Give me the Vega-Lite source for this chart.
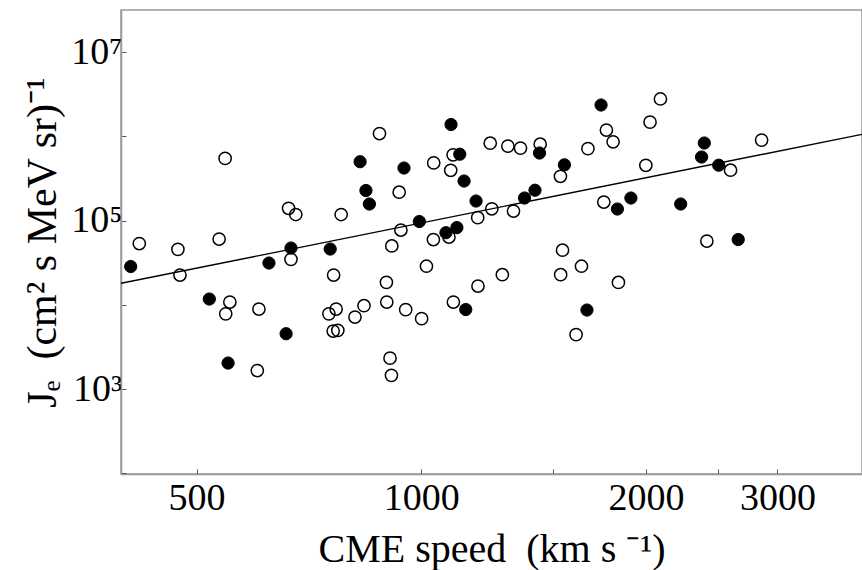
{
  "$schema": "https://vega.github.io/schema/vega-lite/v6.json",
  "width": 741,
  "height": 464,
  "autosize": {"type": "none"},
  "padding": {"left": 121, "top": 10, "right": 0, "bottom": 96},
  "background": "white",
  "config": {
    "view": {"stroke": "#999999", "strokeWidth": 1.5},
    "font": "Liberation Serif",
    "axis": {
      "grid": false,
      "domainColor": "#999999",
      "domainWidth": 1.5,
      "tickColor": "#555555",
      "tickSize": -5,
      "labelFont": "Liberation Serif",
      "labelColor": "black",
      "titleFont": "Liberation Serif",
      "titleColor": "black",
      "titleFontWeight": "normal"
    }
  },
  "datasets": {
    "pts": [
      {"v": 408, "j": 28510, "t": "filled"},
      {"v": 520, "j": 11720, "t": "filled"},
      {"v": 551, "j": 2036, "t": "filled"},
      {"v": 625, "j": 31370, "t": "filled"},
      {"v": 659, "j": 4536, "t": "filled"},
      {"v": 669, "j": 47270, "t": "filled"},
      {"v": 755, "j": 45980, "t": "filled"},
      {"v": 828, "j": 500600, "t": "filled"},
      {"v": 843, "j": 227800, "t": "filled"},
      {"v": 852, "j": 157500, "t": "filled"},
      {"v": 948, "j": 421400, "t": "filled"},
      {"v": 994, "j": 97560, "t": "filled"},
      {"v": 1079, "j": 71810, "t": "filled"},
      {"v": 1096, "j": 1384000, "t": "filled"},
      {"v": 1116, "j": 82580, "t": "filled"},
      {"v": 1126, "j": 614500, "t": "filled"},
      {"v": 1141, "j": 295300, "t": "filled"},
      {"v": 1147, "j": 8794, "t": "filled"},
      {"v": 1184, "j": 170900, "t": "filled"},
      {"v": 1375, "j": 185500, "t": "filled"},
      {"v": 1420, "j": 229600, "t": "filled"},
      {"v": 1440, "j": 635100, "t": "filled"},
      {"v": 1555, "j": 459800, "t": "filled"},
      {"v": 1667, "j": 8673, "t": "filled"},
      {"v": 1741, "j": 2360000, "t": "filled"},
      {"v": 1831, "j": 137300, "t": "filled"},
      {"v": 1909, "j": 185500, "t": "filled"},
      {"v": 2226, "j": 157500, "t": "filled"},
      {"v": 2374, "j": 569200, "t": "filled"},
      {"v": 2394, "j": 834600, "t": "filled"},
      {"v": 2503, "j": 455000, "t": "filled"},
      {"v": 2658, "j": 59640, "t": "filled"},
      {"v": 419, "j": 53460, "t": "open"},
      {"v": 472, "j": 45600, "t": "open"},
      {"v": 475, "j": 22590, "t": "open"},
      {"v": 536, "j": 60470, "t": "open"},
      {"v": 546, "j": 547900, "t": "open"},
      {"v": 554, "j": 10800, "t": "open"},
      {"v": 547, "j": 7818, "t": "open"},
      {"v": 603, "j": 1659, "t": "open"},
      {"v": 606, "j": 8915, "t": "open"},
      {"v": 664, "j": 140000, "t": "open"},
      {"v": 679, "j": 118200, "t": "open"},
      {"v": 669, "j": 34700, "t": "open"},
      {"v": 781, "j": 118200, "t": "open"},
      {"v": 763, "j": 22590, "t": "open"},
      {"v": 752, "j": 7818, "t": "open"},
      {"v": 769, "j": 8915, "t": "open"},
      {"v": 762, "j": 4884, "t": "open"},
      {"v": 773, "j": 4978, "t": "open"},
      {"v": 815, "j": 7163, "t": "open"},
      {"v": 838, "j": 9757, "t": "open"},
      {"v": 879, "j": 1082000, "t": "open"},
      {"v": 934, "j": 217500, "t": "open"},
      {"v": 898, "j": 18500, "t": "open"},
      {"v": 899, "j": 10800, "t": "open"},
      {"v": 913, "j": 50060, "t": "open"},
      {"v": 939, "j": 77330, "t": "open"},
      {"v": 953, "j": 8770, "t": "open"},
      {"v": 908, "j": 2328, "t": "open"},
      {"v": 912, "j": 1454, "t": "open"},
      {"v": 1001, "j": 6856, "t": "open"},
      {"v": 1016, "j": 28730, "t": "open"},
      {"v": 1039, "j": 484500, "t": "open"},
      {"v": 1038, "j": 59640, "t": "open"},
      {"v": 1089, "j": 63870, "t": "open"},
      {"v": 1095, "j": 395800, "t": "open"},
      {"v": 1103, "j": 604500, "t": "open"},
      {"v": 1104, "j": 10800, "t": "open"},
      {"v": 1191, "j": 16720, "t": "open"},
      {"v": 1190, "j": 108500, "t": "open"},
      {"v": 1237, "j": 830000, "t": "open"},
      {"v": 1243, "j": 138100, "t": "open"},
      {"v": 1284, "j": 22780, "t": "open"},
      {"v": 1306, "j": 767000, "t": "open"},
      {"v": 1329, "j": 130000, "t": "open"},
      {"v": 1358, "j": 726100, "t": "open"},
      {"v": 1443, "j": 807800, "t": "open"},
      {"v": 1536, "j": 335900, "t": "open"},
      {"v": 1546, "j": 44510, "t": "open"},
      {"v": 1537, "j": 22780, "t": "open"},
      {"v": 1639, "j": 28730, "t": "open"},
      {"v": 1612, "j": 4428, "t": "open"},
      {"v": 1672, "j": 716300, "t": "open"},
      {"v": 1770, "j": 1191000, "t": "open"},
      {"v": 1807, "j": 862600, "t": "open"},
      {"v": 1756, "j": 166300, "t": "open"},
      {"v": 1837, "j": 18450, "t": "open"},
      {"v": 1999, "j": 453700, "t": "open"},
      {"v": 2025, "j": 1479000, "t": "open"},
      {"v": 2091, "j": 2782000, "t": "open"},
      {"v": 2413, "j": 57240, "t": "open"},
      {"v": 2596, "j": 396900, "t": "open"},
      {"v": 2857, "j": 903700, "t": "open"}
    ],
    "fit": [
      {"v": 396, "j": 18000},
      {"v": 3894, "j": 1059000}
    ]
  },
  "layer": [
    {
      "data": {"name": "pts"},
      "transform": [{"filter": "datum.t == 'open'"}],
      "mark": {"type": "point", "shape": "circle", "filled": false, "stroke": "black", "strokeWidth": 1.5, "size": 150, "opacity": 1},
      "encoding": {
        "x": {
          "field": "v", "type": "quantitative",
          "scale": {"type": "log", "domain": [396, 3894], "nice": false, "zero": false},
          "axis": {
            "title": "CME speed\u00a0\u00a0(km s ⁻¹)",
            "titleFontSize": 40,
            "titlePadding": 12,
            "labelFontSize": 38,
            "labelPadding": 10,
            "values": [500, 1000, 1500, 2000, 2500, 3000],
            "format": "d",
            "labelExpr": "datum.value == 1500 || datum.value == 2500 ? '' : datum.label",
            "labelFlush": false,
            "labelOverlap": false
          }
        },
        "y": {
          "field": "j", "type": "quantitative",
          "scale": {"type": "log", "domain": [98, 31700000], "nice": false, "zero": false},
          "axis": {
            "title": "Jₑ\u00a0\u00a0(cm² s MeV sr)⁻¹",
            "titleFontSize": 42,
            "titlePadding": 6,
            "labelFontSize": 38,
            "labelPadding": 4,
            "values": [100, 1000, 10000, 100000, 1000000, 10000000],
            "labelExpr": "datum.value == 1000 ? '10³' : datum.value == 100000 ? '10⁵' : datum.value == 10000000 ? '10⁷' : ''",
            "labelOverlap": false,
            "labelFlush": false
          }
        }
      }
    },
    {
      "data": {"name": "pts"},
      "transform": [{"filter": "datum.t == 'filled'"}],
      "mark": {"type": "point", "shape": "circle", "filled": true, "fill": "black", "stroke": "black", "strokeWidth": 1, "size": 150, "opacity": 1},
      "encoding": {
        "x": {"field": "v", "type": "quantitative"},
        "y": {"field": "j", "type": "quantitative"}
      }
    },
    {
      "data": {"name": "fit"},
      "mark": {"type": "line", "color": "black", "strokeWidth": 1.4, "clip": true},
      "encoding": {
        "x": {"field": "v", "type": "quantitative"},
        "y": {"field": "j", "type": "quantitative"}
      }
    }
  ]
}
